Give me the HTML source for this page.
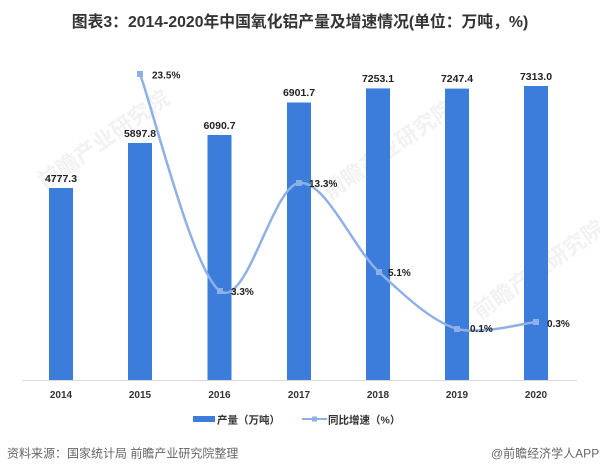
<!DOCTYPE html>
<html><head><meta charset="utf-8">
<style>
html,body{margin:0;padding:0;background:#fff;}
body{width:600px;height:474px;overflow:hidden;}
svg{display:block;}
text{font-family:"Liberation Sans","Noto Sans CJK SC",sans-serif;}
</style></head>
<body>
<svg width="600" height="474" viewBox="0 0 600 474" xmlns="http://www.w3.org/2000/svg">
<rect width="600" height="474" fill="#ffffff"/>
<!-- watermarks -->
<g fill="#f2f2f2" font-weight="bold" font-size="22">
<text transform="translate(45,190) rotate(-35)">前瞻产业研究院</text>
<text transform="translate(330,200) rotate(-35)">前瞻产业研究院</text>
<text transform="translate(480,320) rotate(-35)">前瞻产业研究院</text>
</g>
<!-- title -->
<text x="300" y="27" text-anchor="middle" font-size="15.8" font-weight="bold" fill="#333">图表3：2014-2020年中国氧化铝产量及增速情况(单位：万吨，%)</text>
<!-- axis -->
<line x1="22" y1="380.5" x2="577" y2="380.5" stroke="#d9d9d9" stroke-width="1"/>
<!-- bars -->
<g fill="#3c7ddb">
<rect x="49" y="188" width="24" height="192"/>
<rect x="128" y="143" width="24" height="237"/>
<rect x="207.5" y="135" width="24" height="245"/>
<rect x="287" y="102.5" width="24" height="277.5"/>
<rect x="366" y="88.4" width="24" height="291.6"/>
<rect x="445" y="88.6" width="24" height="291.4"/>
<rect x="524" y="86" width="24" height="294"/>
</g>
<!-- bar labels -->
<g font-size="10.5" font-weight="bold" fill="#222" text-anchor="middle">
<text x="61" y="182">4777.3</text>
<text x="140" y="137">5897.8</text>
<text x="219.5" y="129">6090.7</text>
<text x="299" y="96">6901.7</text>
<text x="378" y="82">7253.1</text>
<text x="457" y="82">7247.4</text>
<text x="536" y="80">7313.0</text>
</g>
<!-- line -->
<path d="M140,74 C153.3,110.2 193.5,272.8 220,291 C246.5,309.2 272.5,186.2 299,183 C325.5,179.8 352.7,247.7 379,272 C405.3,296.3 430.8,320.7 457,329 C483.2,335 522.8,323.2 536,322" fill="none" stroke="#8eb0e6" stroke-width="2.5"/>
<g fill="#8eb0e6">
<rect x="137" y="71" width="6" height="6"/>
<rect x="217" y="288" width="6" height="6"/>
<rect x="296" y="180" width="6" height="6"/>
<rect x="376" y="269" width="6" height="6"/>
<rect x="454" y="326" width="6" height="6"/>
<rect x="533" y="319" width="6" height="6"/>
</g>
<g font-size="10" font-weight="bold" fill="#222">
<text x="152" y="78.5">23.5%</text>
<text x="231" y="295">3.3%</text>
<text x="309" y="187">13.3%</text>
<text x="388" y="276">5.1%</text>
<text x="470" y="332">0.1%</text>
<text x="547" y="327">0.3%</text>
</g>
<!-- x labels -->
<g font-size="10" font-weight="bold" fill="#333" text-anchor="middle">
<text x="61" y="398">2014</text>
<text x="140" y="398">2015</text>
<text x="219.5" y="398">2016</text>
<text x="299" y="398">2017</text>
<text x="378" y="398">2018</text>
<text x="457" y="398">2019</text>
<text x="536" y="398">2020</text>
</g>
<!-- legend -->
<rect x="193" y="416" width="22" height="6" fill="#3c7ddb"/>
<text x="217" y="423.5" font-size="10.5" font-weight="bold" fill="#333">产量（万吨）</text>
<line x1="302" y1="419" x2="327" y2="419" stroke="#8eb0e6" stroke-width="2"/>
<rect x="312" y="416.5" width="5" height="5" fill="#8eb0e6"/>
<text x="328" y="423.5" font-size="10.5" font-weight="bold" fill="#333">同比增速（%）</text>
<!-- footer -->
<text x="7" y="457.5" font-size="12" fill="#666">资料来源：国家统计局 前瞻产业研究院整理</text>
<text x="491" y="457.5" font-size="12" fill="#666">@前瞻经济学人APP</text>
</svg>
</body></html>
